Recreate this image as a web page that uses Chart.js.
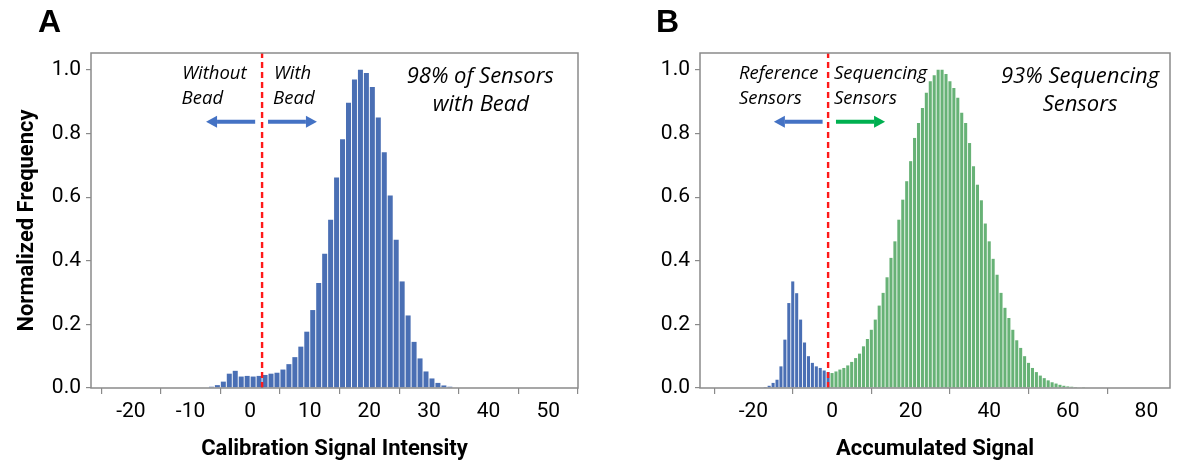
<!DOCTYPE html>
<html><head><meta charset="utf-8">
<script src="https://cdn.jsdelivr.net/npm/chart.js@4.4.1/dist/chart.umd.min.js"></script>
<style>
html,body{margin:0;padding:0;background:#fff;width:1183px;height:467px;overflow:hidden}
.panel{position:absolute;top:0;height:467px}
#pa{left:0;width:595px}
#pb{left:598px;width:585px}
.lbl{position:absolute;top:3px;font:bold 32px 'Liberation Sans',Arial,sans-serif;color:#000}
</style></head><body>
<div class="panel" id="pa"><canvas id="ca"></canvas></div>
<div class="panel" id="pb"><canvas id="cb"></canvas></div>
<div class="lbl" style="left:38px">A</div>
<div class="lbl" style="left:656px">B</div>
<script>
// ---------- Panel A data (bin centres, normalized frequency) ----------
const binCentersA = [-6.5,-5.5,-4.5,-3.5,-2.5,-1.5,-0.5,0.5,1.5,2.5,3.5,4.5,5.5,6.5,7.5,8.5,9.5,10.5,11.5,12.5,13.5,14.5,15.5,16.5,17.5,18.5,19.5,20.5,21.5,22.5,23.5,24.5,25.5,26.5,27.5,28.5,29.5,30.5,31.5,32.5,33.5];
const freqA = [0.004,0.009,0.020,0.045,0.054,0.036,0.038,0.036,0.038,0.041,0.045,0.048,0.058,0.075,0.097,0.130,0.177,0.245,0.330,0.422,0.529,0.662,0.782,0.897,0.970,1.000,0.990,0.946,0.850,0.741,0.605,0.466,0.335,0.228,0.145,0.093,0.052,0.030,0.016,0.008,0.004];
const thresholdA = 2;
const xTicksA = [-20,-10,0,10,20,30,40,50];

// ---------- Panel B data ----------
const refCentersB = [-17,-16,-15,-14,-13,-12,-11,-10,-9,-8,-7,-6,-5,-4,-3,-2,-1];
const refFreqB = [0.003,0.007,0.016,0.026,0.068,0.152,0.267,0.335,0.298,0.215,0.143,0.100,0.079,0.068,0.063,0.055,0.050];
const seqCentersB = [0,1,2,3,4,5,6,7,8,9,10,11,12,13,14,15,16,17,18,19,20,21,22,23,24,25,26,27,28,29,30,31,32,33,34,35,36,37,38,39,40,41,42,43,44,45,46,47,48,49,50,51,52,53,54,55,56,57,58,59,60,61,62,63,64];
const seqFreqB = [0.047,0.052,0.058,0.063,0.071,0.082,0.094,0.108,0.131,0.154,0.183,0.215,0.259,0.299,0.348,0.409,0.461,0.529,0.592,0.650,0.713,0.786,0.833,0.880,0.928,0.964,0.983,1.000,1.000,0.987,0.964,0.943,0.912,0.865,0.833,0.770,0.697,0.639,0.590,0.517,0.461,0.406,0.356,0.299,0.252,0.220,0.183,0.150,0.126,0.100,0.079,0.063,0.050,0.039,0.031,0.024,0.018,0.014,0.010,0.007,0.005,0.004,0.003,0.002,0.001];
const thresholdB = -1;
const xTicksB = [-20,0,20,40,60,80];

const yTicks = [0,0.2,0.4,0.6,0.8,1.0];
const Y_MAX = 1.053;

const TICK_FONT = {family:"'Roboto',sans-serif", size:21};
const TITLE_FONT = {family:"'Roboto',sans-serif", size:22, weight:'bold'};
const ITAL = "'Open Sans','DejaVu Sans',sans-serif";

const pts = (xs, ys) => xs.map((x,i)=>({x, y:ys[i]}));

const framePlugin = {
  id:'frame',
  afterDatasetsDraw(chart){
    const {ctx, chartArea:a} = chart;
    ctx.save();
    ctx.strokeStyle = '#8a8a8a';
    ctx.lineWidth = 1.5;
    ctx.strokeRect(a.left, a.top, a.right-a.left, a.bottom-a.top);
    ctx.restore();
  }
};

const annotPlugin = {
  id:'annot',
  afterDraw(chart, args, opts){
    const {ctx} = chart;
    const xs = chart.scales.x, ys = chart.scales.y;
    ctx.save();
    (opts.texts||[]).forEach(t=>{
      ctx.font = `italic ${t.size}px ${ITAL}`;
      ctx.fillStyle = '#000';
      ctx.textAlign = t.align;
      ctx.textBaseline = 'middle';
      ctx.fillText(t.text, xs.getPixelForValue(t.x), ys.getPixelForValue(t.y));
    });
    (opts.arrows||[]).forEach(ar=>{
      const x0 = xs.getPixelForValue(ar.from), x1 = xs.getPixelForValue(ar.to), y = ys.getPixelForValue(ar.y);
      const dir = Math.sign(x1-x0);
      const head = 11, hw = 6;
      ctx.strokeStyle = ar.color; ctx.fillStyle = ar.color;
      ctx.lineWidth = 4;
      ctx.beginPath(); ctx.moveTo(x0, y); ctx.lineTo(x1 - dir*head, y); ctx.stroke();
      ctx.beginPath(); ctx.moveTo(x1, y); ctx.lineTo(x1 - dir*head, y-hw); ctx.lineTo(x1 - dir*head, y+hw); ctx.closePath(); ctx.fill();
    });
    ctx.restore();
  }
};

function makeChart(id, barSets, threshold, xMin, xMax, xTicks, xTitle, showYTitle, yWidth, padRight, annot){
  const datasets = barSets.map(b=>({
    type:'bar', data:b.data, backgroundColor:b.color, borderWidth:0,
    barPercentage:b.bp, categoryPercentage:1, grouped:false, order:1
  }));
  datasets.push({
    type:'line', data:[{x:threshold,y:0},{x:threshold,y:Y_MAX}],
    borderColor:'#ff1a1a', borderWidth:2.4, borderDash:[6,4], pointRadius:0, fill:false, order:-1
  });
  return new Chart(document.getElementById(id), {
    type:'bar',
    data:{datasets},
    options:{
      responsive:true, maintainAspectRatio:false, animation:false,
      layout:{padding:{top:53,right:padRight,left:0,bottom:0}},
      plugins:{legend:{display:false}, tooltip:{enabled:false}, annot},
      scales:{
        x:{
          type:'linear', min:xMin, max:xMax, offset:false,
          afterBuildTicks:s=>{ s.ticks = xTicks.map(v=>({value:v})); },
          afterFit:s=>{ s.height = 79; },
          grid:{display:true, drawOnChartArea:false, drawTicks:true, tickLength:6, color:'#8a8a8a', lineWidth:1.2},
          border:{display:false},
          ticks:{font:TICK_FONT, color:'#000', padding:5, maxRotation:0, autoSkip:false, callback:v=>String(v)},
          title:{display:true, text:xTitle, font:TITLE_FONT, color:'#000', padding:{top:10,bottom:4}}
        },
        y:{
          type:'linear', min:0, max:Y_MAX,
          afterBuildTicks:s=>{ s.ticks = yTicks.map(v=>({value:v})); },
          afterFit:s=>{ s.width = yWidth; },
          grid:{display:true, drawOnChartArea:false, drawTicks:true, tickLength:5, color:'#8a8a8a', lineWidth:1.2},
          border:{display:false},
          ticks:{font:TICK_FONT, color:'#000', padding:5, callback:v=>v.toFixed(1)},
          title:{display:showYTitle, text:'Normalized Frequency', font:TITLE_FONT, color:'#000', padding:{top:14,bottom:6}}
        }
      }
    },
    plugins:[framePlugin, annotPlugin]
  });
}

makeChart('ca',
  [{data:pts(binCentersA,freqA), color:'#4a6fb4', bp:0.84}],
  thresholdA, -26.7, 55, xTicksA, 'Calibration Signal Intensity', true, 91, 17,
  {
    texts:[
      {text:'Without', x:-11.4, y:0.987, align:'left', size:18.5},
      {text:'Bead', x:-11.5, y:0.909, align:'left', size:18.5},
      {text:'With', x:4.0, y:0.987, align:'left', size:18.5},
      {text:'Bead', x:3.85, y:0.909, align:'left', size:18.5},
      {text:'98% of Sensors', x:38.6, y:0.979, align:'center', size:22},
      {text:'with Bead', x:38.7, y:0.890, align:'center', size:22}
    ],
    arrows:[
      {from:0.84, to:-7.4, y:0.837, color:'#4472c4'},
      {from:3.0, to:11.2, y:0.837, color:'#4472c4'}
    ]
  });

makeChart('cb',
  [{data:pts(refCentersB,refFreqB), color:'#4a6fb4', bp:0.78},
   {data:pts(seqCentersB,seqFreqB), color:'#67b276', bp:0.78}],
  thresholdB, -33.6, 86, xTicksB, 'Accumulated Signal', false, 102, 13,
  {
    texts:[
      {text:'Reference', x:-23.7, y:0.987, align:'left', size:18.5},
      {text:'Sensors', x:-23.7, y:0.909, align:'left', size:18.5},
      {text:'Sequencing', x:0.5, y:0.987, align:'left', size:18.5},
      {text:'Sensors', x:0.5, y:0.909, align:'left', size:18.5},
      {text:'93% Sequencing', x:63.1, y:0.979, align:'center', size:22},
      {text:'Sensors', x:63.1, y:0.890, align:'center', size:22}
    ],
    arrows:[
      {from:-2.4, to:-14.8, y:0.837, color:'#4472c4'},
      {from:1.0, to:13.5, y:0.837, color:'#00b050'}
    ]
  });
</script>
</body></html>
